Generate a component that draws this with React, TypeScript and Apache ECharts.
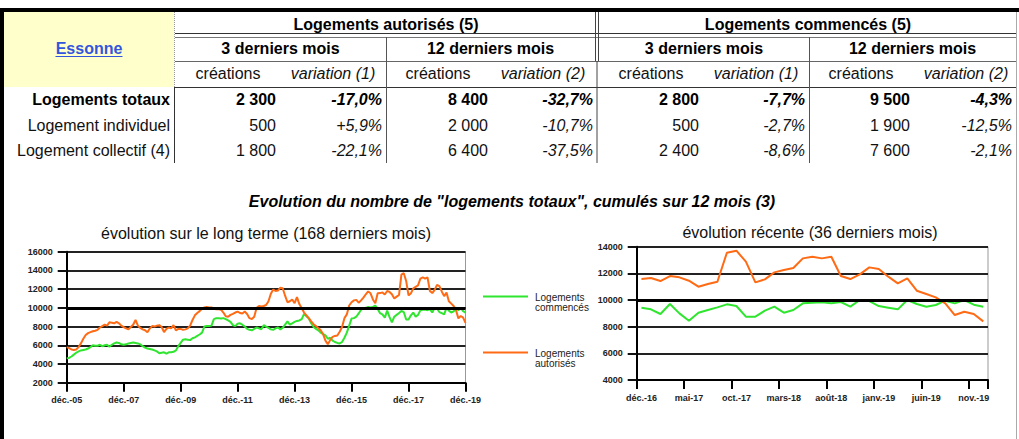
import React, { useEffect, useRef } from "react";
import * as echarts from "echarts";

// ---------- Table data ----------
const rowLabels = ["Logements totaux", "Logement individuel", "Logement collectif (4)"];
const autorises3Creations = [2300, 500, 1800];
const autorises3Variation = [-17.0, 5.9, -22.1];
const autorises12Creations = [8400, 2000, 6400];
const autorises12Variation = [-32.7, -10.7, -37.5];
const commences3Creations = [2800, 500, 2400];
const commences3Variation = [-7.7, -2.7, -8.6];
const commences12Creations = [9500, 1900, 7600];
const commences12Variation = [-4.3, -12.5, -2.1];

const groupTitles = ["Logements autorisés (5)", "Logements commencés (5)"];
const periodTitles = ["3 derniers mois", "12 derniers mois", "3 derniers mois", "12 derniers mois"];
const variationTitles = ["variation (1)", "variation (2)", "variation (1)", "variation (2)"];
const departement = "Essonne";

// ---------- Chart data (12-month cumulated totals) ----------
const MONTHS_FR = ["janv.", "févr.", "mars", "avr.", "mai", "juin", "juil.", "août", "sept.", "oct.", "nov.", "déc."];

// déc.-05 .. nov.-16 (132 months)
const autorisesAvant2017 = [
  5800, 5700, 5550, 5500, 5550, 5800, 6200, 6700, 7100, 7300,
  7400, 7500, 7550, 7650, 7900, 8050, 8200, 8100, 8450, 8400,
  8350, 8500, 8350, 8100, 7950, 7800, 7700, 7950, 8200, 8700,
  8100, 7850, 7700, 7600, 7400, 7800, 8050, 8000, 8100, 8150,
  7950, 7400, 7750, 7900, 7800, 8150, 7600, 7750, 7750, 7650,
  7700, 7800, 8100, 8700, 9200, 9450, 9650, 9900, 10050, 10100,
  10050, 10050, 9900, 9850, 9850, 9800, 9500, 9100, 9050, 9250,
  9350, 9500, 9600, 9450, 9400, 9600, 9350, 8900, 8800, 9050,
  10000, 10200, 10150, 10200, 10300, 10700, 11500, 11950, 11800, 11850,
  12150, 12100, 11300, 10600, 10700, 10900, 10500, 11150, 10400, 9950,
  9500, 9200, 8900, 8550, 8250, 8050, 7850, 7600, 7200, 6500,
  6100, 6550, 6900, 7000, 7050, 7450, 7950, 8900, 9300, 10250,
  10600, 10800, 10850, 10550, 10800, 11100, 11450, 11750, 11550, 10900,
  10500, 11550,
];
const commencesAvant2017 = [
  4600, 4650, 4800, 5000, 5200, 5350, 5450, 5500, 5550, 5650,
  5800, 6000, 5950, 5950, 6050, 5900, 6000, 6050, 5850, 6050,
  6200, 6300, 6250, 6100, 6050, 6100, 6200, 6250, 6300, 6250,
  6200, 6100, 5900, 5750, 5650, 5600, 5550, 5450, 5350, 5150,
  5200, 5250, 5100, 5250, 5250, 5300, 5450, 5900, 6250, 6600,
  6650, 6600, 6550, 6750, 6850, 7000, 7150, 7350, 8000, 8050,
  8050, 8100, 8800, 8900, 8900, 8850, 8900, 8800, 8650, 8500,
  8150, 8050, 8300, 8350, 8200, 8000, 7750, 7650, 7600, 7750,
  7900, 7800, 7700, 8150, 8000, 7850, 7700, 7650, 7800, 7900,
  7700, 7850, 8200, 8550, 8200, 8350, 8500, 8600, 8650, 8800,
  9350, 9100, 8850, 8350, 7950, 7750, 7600, 7350, 7200, 7050,
  6700, 6800, 6500, 6350, 6250, 6200, 6350, 6800, 7350, 8100,
  8850, 8900, 9050, 9400, 9800, 9950, 10000, 10100, 10050, 10100,
  10250, 9900,
];
// déc.-16 .. déc.-19 (37 months)
const autorisesRecent = [
  11575, 11650, 11425, 11800, 11700, 11450, 11000, 11200, 11375, 13550,
  13700, 12875, 11325, 11550, 12075, 12250, 12400, 13125, 13250, 13125,
  13250, 11800, 11575, 11925, 12450, 12325, 11750, 11250, 11625, 10700,
  10450, 10200, 9750, 8875, 9125, 8950, 8400,
];
const commencesRecent = [
  9425, 9300, 8950, 9700, 9000, 8450, 9050, 9250, 9450, 9675,
  9550, 8750, 8750, 9200, 9500, 9050, 9250, 9750, 9800, 9825,
  9750, 9850, 9500, 10000, 9925, 9550, 9425, 9300, 10000, 9700,
  9500, 9625, 9950, 9750, 10000, 9650, 9500,
];

const seriesNames = ["Logements commencés", "Logements autorisés"];
const legendLines = [["Logements", "commencés"], ["Logements", "autorisés"]];
const longTitle = "évolution sur le long terme (168 derniers mois)";
const recentTitle = "évolution récente (36 derniers mois)";
const mainTitle = "Evolution du nombre de \"logements totaux\", cumulés sur 12 mois (3)";

function monthLabels(startYear: number, startMonth: number, count: number): string[] {
  const out: string[] = [];
  for (let i = 0; i < count; i++) {
    const t = startMonth + i;
    const y = startYear + Math.floor(t / 12);
    const m = t % 12;
    out.push(`${MONTHS_FR[m]}-${String(y % 100).padStart(2, "0")}`);
  }
  return out;
}

const longAutorises = [...autorisesAvant2017, ...autorisesRecent];
const longCommences = [...commencesAvant2017, ...commencesRecent];
const longLabels = monthLabels(2005, 11, longAutorises.length);
const recentLabels = monthLabels(2016, 11, autorisesRecent.length);

const fmtInt = (n: number) => String(n).replace(/\B(?=(\d{3})+(?!\d))/g, " ");
const fmtPct = (v: number) => (v > 0 ? "+" : "") + v.toFixed(1).replace(".", ",") + "%";

const FONT = '"Liberation Sans", Arial, Helvetica, sans-serif';
const GREEN = "#2fe52f";
const ORANGE = "#ff6a14";

function txt(text: string, x: number, y: number, o: any = {}) {
  const align = o.align || "center";
  return {
    type: "text",
    x,
    y,
    silent: true,
    z: 10,
    style: {
      text,
      fill: o.fill || "#000",
      fontSize: o.size || 16,
      fontFamily: FONT,
      fontWeight: o.bold ? "bold" : "normal",
      fontStyle: o.italic ? "italic" : "normal",
      align,
      textAlign: align,
      verticalAlign: "middle",
      textVerticalAlign: "middle",
    },
  };
}
function ln(x1: number, y1: number, x2: number, y2: number, stroke = "#444", w = 1, dash?: number[]) {
  return {
    type: "line",
    silent: true,
    z: 5,
    shape: { x1, y1, x2, y2 },
    style: { stroke, lineWidth: w, lineDash: dash },
  };
}

function buildGraphics() {
  const g: any[] = [];
  // frame
  g.push({ type: "rect", silent: true, z: 6, shape: { x: 0, y: 8, width: 1019, height: 4 }, style: { fill: "#000" } });
  g.push({ type: "rect", silent: true, z: 6, shape: { x: 0, y: 8, width: 4, height: 431 }, style: { fill: "#000" } });
  g.push(ln(1016.5, 12, 1016.5, 439, "#aaa", 1));
  // yellow cell
  g.push({ type: "rect", silent: true, z: 1, shape: { x: 4, y: 12, width: 170, height: 75 }, style: { fill: "#ffffcc" } });
  g.push(txt(departement, 89, 48.5, { bold: true, fill: "#3355dd" }));
  g.push(ln(55.5, 56.5, 122.5, 56.5, "#3355dd", 1));
  // table lines
  g.push(ln(174.5, 12, 174.5, 87, "#999", 1, [1, 1]));
  g.push(ln(174.5, 87, 174.5, 163, "#333", 1));
  g.push(ln(175, 33.5, 1016, 33.5, "#333", 1));
  g.push(ln(175, 37.5, 1016, 37.5, "#777", 1));
  g.push(ln(175, 61.5, 1016, 61.5, "#666", 1));
  g.push(ln(175, 87.5, 1016, 87.5, "#333", 1));
  g.push(ln(386.5, 37, 386.5, 163, "#555", 1));
  g.push(ln(809.5, 37, 809.5, 163, "#555", 1));
  g.push(ln(595.5, 12, 595.5, 61, "#444", 1));
  g.push(ln(598.5, 12, 598.5, 61, "#444", 1));
  g.push(ln(597, 61, 597, 163, "#444", 1));

  // headers
  const groupCenters = [386, 808];
  groupTitles.forEach((t, i) => g.push(txt(t, groupCenters[i], 24, { bold: true })));
  const periodCenters = [280.5, 490.5, 704, 912.5];
  periodTitles.forEach((t, i) => g.push(txt(t, periodCenters[i], 48.5, { bold: true })));
  const subCenters = [228, 333, 438, 543, 651, 756, 861, 966];
  for (let i = 0; i < 4; i++) {
    g.push(txt("créations", subCenters[2 * i], 73.5, { fill: "#111" }));
    g.push(txt(variationTitles[i], subCenters[2 * i + 1], 73.5, { italic: true, fill: "#111" }));
  }

  // rows
  const rowY = [99.5, 125, 150];
  const colRight = [276, 382, 488, 593, 699, 805, 910, 1012];
  const creations = [autorises3Creations, autorises12Creations, commences3Creations, commences12Creations];
  const variations = [autorises3Variation, autorises12Variation, commences3Variation, commences12Variation];
  rowLabels.forEach((label, r) => {
    const bold = r === 0;
    g.push(txt(label, 170, rowY[r], { align: "right", bold, fill: bold ? "#000" : "#111" }));
    for (let k = 0; k < 4; k++) {
      g.push(txt(fmtInt(creations[k][r]), colRight[2 * k], rowY[r], { align: "right", bold, fill: bold ? "#000" : "#111" }));
      g.push(txt(fmtPct(variations[k][r]), colRight[2 * k + 1], rowY[r], { align: "right", bold, italic: true, fill: bold ? "#000" : "#111" }));
    }
  });

  // titles
  g.push(txt(mainTitle, 512, 201.5, { bold: true, italic: true }));
  g.push(txt(longTitle, 266, 233.5, { fill: "#111" }));
  g.push(txt(recentTitle, 810, 232.5, { fill: "#111" }));

  // legend
  const legendY = [296.5, 352.5];
  const colors = [GREEN, ORANGE];
  for (let i = 0; i < 2; i++) {
    g.push({
      type: "line",
      silent: true,
      z: 5,
      shape: { x1: 483, y1: legendY[i], x2: 528, y2: legendY[i] },
      style: { stroke: colors[i], lineWidth: 2 },
    });
    g.push(txt(legendLines[i][0], 535, legendY[i] + 1, { align: "left", size: 10, fill: "#222" }));
    g.push(txt(legendLines[i][1], 535, legendY[i] + 11, { align: "left", size: 10, fill: "#222" }));
  }
  return g;
}

function axisPair(gridIndex: number, labels: string[], boundaryGap: boolean, interval: number, min: number, max: number) {
  const x = {
    type: "category",
    gridIndex,
    data: labels,
    boundaryGap,
    axisLine: { show: true, lineStyle: { color: "#000", width: 2 } },
    axisTick: { show: true, interval, length: 9, lineStyle: { color: "#000", width: 2 } },
    axisLabel: { interval, margin: 13, fontSize: 9, fontWeight: "bold", color: "#222", fontFamily: FONT },
    splitLine: { show: false },
  };
  const y = {
    type: "value",
    gridIndex,
    min,
    max,
    interval: 2000,
    axisLine: { show: true, lineStyle: { color: "#000", width: 2 } },
    axisTick: { show: true, length: 9, lineStyle: { color: "#111", width: 2 } },
    axisLabel: {
      margin: 14,
      fontSize: 9,
      fontWeight: "bold",
      color: "#222",
      fontFamily: FONT,
      formatter: (v: number) => String(v),
    },
    splitLine: { show: true, lineStyle: { color: "#222", width: 2 } },
  };
  return { x, y };
}

function lineSeries(name: string, data: number[], idx: number, color: string) {
  return {
    name,
    type: "line",
    xAxisIndex: idx,
    yAxisIndex: idx,
    data,
    showSymbol: false,
    symbol: "none",
    silent: true,
    z: 4,
    lineStyle: { color, width: 2 },
    itemStyle: { color },
  };
}

function refLine(idx: number) {
  return {
    type: "line",
    xAxisIndex: idx,
    yAxisIndex: idx,
    data: [],
    silent: true,
    z: 3,
    markLine: {
      silent: true,
      symbol: "none",
      label: { show: false },
      lineStyle: { color: "#000", width: 3, type: "solid" },
      data: [{ yAxis: 10000 }],
    },
  };
}

export default function App() {
  const ref = useRef<HTMLDivElement>(null);
  useEffect(() => {
    if (!ref.current) return;
    const chart = echarts.init(ref.current, null, { renderer: "svg" });
    const a0 = axisPair(0, longLabels, false, 23, 2000, 16000);
    const a1 = axisPair(1, recentLabels, true, 4, 4000, 14000);
    chart.setOption({
      animation: false,
      backgroundColor: "#fff",
      textStyle: { fontFamily: FONT },
      grid: [
        { left: 66.7, top: 251.7, width: 398.8, height: 131, show: true, borderColor: "#999", borderWidth: 1 },
        { left: 636.7, top: 246.7, width: 351.3, height: 133.3, show: true, borderColor: "#999", borderWidth: 1 },
      ],
      xAxis: [a0.x, a1.x],
      yAxis: [a0.y, a1.y],
      series: [
        refLine(0),
        refLine(1),
        lineSeries(seriesNames[0], longCommences, 0, GREEN),
        lineSeries(seriesNames[1], longAutorises, 0, ORANGE),
        lineSeries(seriesNames[0], commencesRecent, 1, GREEN),
        lineSeries(seriesNames[1], autorisesRecent, 1, ORANGE),
      ],
      graphic: { elements: buildGraphics() },
    });
    return () => chart.dispose();
  }, []);
  return (
    <div
      ref={ref}
      style={{ position: "absolute", left: 0, top: 0, width: 1019, height: 439, background: "#fff" }}
    />
  );
}
